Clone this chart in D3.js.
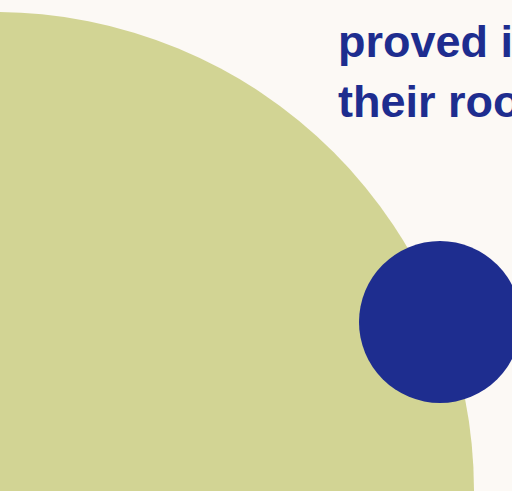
<!DOCTYPE html>
<html>
<head>
<meta charset="utf-8">
<script src="https://cdn.jsdelivr.net/npm/d3@7"></script>
<style>
html,body{margin:0;padding:0;background:#fcf9f5;overflow:hidden;}
svg{display:block;}
</style>
</head>
<body>
<script>
// Data
const categories = ["large", "small"];
const values = [100, 2.86];
const xPos = [-0.5, 44.0];
const yPos = [49.1, 32.2];
const colors = ["#d2d494", "#1e2d8f"];
const textLines = ["proved i", "their roo"];

const W = 512, H = 491;
const svg = d3.select("body").append("svg").attr("width", W).attr("height", H);
svg.append("rect").attr("width", W).attr("height", H).attr("fill", "#fcf9f5");

const x = d3.scaleLinear().domain([0, 51.2]).range([0, W]);
const y = d3.scaleLinear().domain([0, 49.1]).range([0, H]);
const r = d3.scaleSqrt().domain([0, 100]).range([0, 479]);

svg.selectAll("circle").data(categories).join("circle")
  .attr("cx", (d, i) => x(xPos[i]))
  .attr("cy", (d, i) => y(yPos[i]))
  .attr("r", (d, i) => r(values[i]))
  .attr("fill", (d, i) => colors[i]);

svg.selectAll("text.t").data(textLines).join("text")
  .attr("class", "t")
  .attr("x", 338)
  .attr("y", (d, i) => 57 + i * 60)
  .attr("font-family", "Liberation Sans, Arial, sans-serif")
  .attr("font-weight", "bold")
  .attr("font-size", 45)
  .attr("fill", "#1e2d8f")
  .text(d => d);
</script>
</body>
</html>
